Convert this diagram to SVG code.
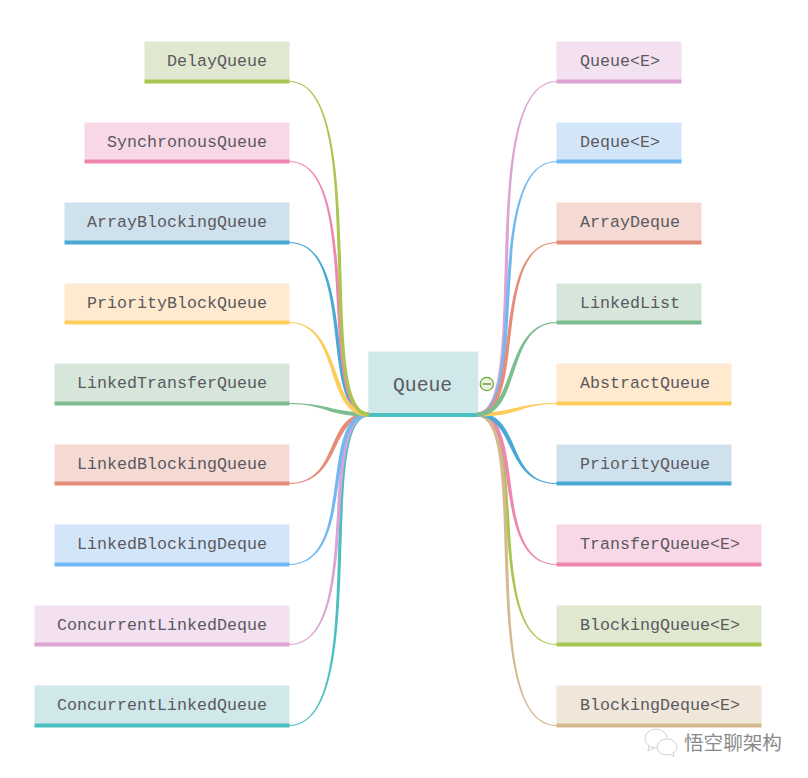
<svg xmlns="http://www.w3.org/2000/svg" width="808" height="778" viewBox="0 0 808 778">
<style>
text{font-family:"Liberation Mono","Noto Sans CJK SC",monospace;font-size:16.67px;fill:#5a5a60}
.c1{fill:#a8c650}.c2{fill:#ee86b0}.c3{fill:#48a9d4}.c4{fill:#fdcd5b}.c5{fill:#7dbd92}.c6{fill:#e58d7a}.c7{fill:#72b9f4}.c8{fill:#dda3d2}.c9{fill:#4bbfc4}.c10{fill:#d6b98f}
.f1{fill:#e0e8d0}.f2{fill:#f8d8e6}.f3{fill:#cfe1ec}.f4{fill:#ffead0}.f5{fill:#d6e6da}.f6{fill:#f5d9d3}.f7{fill:#d3e6f9}.f8{fill:#f3e0f0}.f9{fill:#d0e8ea}.f10{fill:#f0e6da}
</style>
<g id="root"><rect class="f9" x="368.3" y="351.5" width="110" height="63"/><rect class="c9" x="368.3" y="413" width="110" height="4"/><text x="393" y="391" style="font-size:19.7px">Queue</text></g>
<g id="l1"><rect class="f1" x="144.5" y="41.5" width="145" height="39"/><rect class="c1" x="144.5" y="79.5" width="145" height="4"/><text x="167" y="66">DelayQueue</text></g>
<g id="l2"><rect class="f2" x="84.5" y="122.5" width="205" height="38"/><rect class="c2" x="84.5" y="159.5" width="205" height="4"/><text x="107" y="147">SynchronousQueue</text></g>
<g id="l3"><rect class="f3" x="64.5" y="202.5" width="225" height="39"/><rect class="c3" x="64.5" y="240.5" width="225" height="4"/><text x="87" y="227">ArrayBlockingQueue</text></g>
<g id="l4"><rect class="f4" x="64.5" y="283.5" width="225" height="38"/><rect class="c4" x="64.5" y="320.5" width="225" height="4"/><text x="87" y="308">PriorityBlockQueue</text></g>
<g id="l5"><rect class="f5" x="54.5" y="363.5" width="235" height="39"/><rect class="c5" x="54.5" y="401.5" width="235" height="4"/><text x="77" y="388">LinkedTransferQueue</text></g>
<g id="l6"><rect class="f6" x="54.5" y="444.5" width="235" height="38"/><rect class="c6" x="54.5" y="481.5" width="235" height="4"/><text x="77" y="469">LinkedBlockingQueue</text></g>
<g id="l7"><rect class="f7" x="54.5" y="524.5" width="235" height="39"/><rect class="c7" x="54.5" y="562.5" width="235" height="4"/><text x="77" y="549">LinkedBlockingDeque</text></g>
<g id="l8"><rect class="f8" x="34.5" y="605.5" width="255" height="38"/><rect class="c8" x="34.5" y="642.5" width="255" height="4"/><text x="57" y="630">ConcurrentLinkedDeque</text></g>
<g id="l9"><rect class="f9" x="34.5" y="685.5" width="255" height="39"/><rect class="c9" x="34.5" y="723.5" width="255" height="4"/><text x="57" y="710">ConcurrentLinkedQueue</text></g>
<g id="r1"><rect class="f8" x="556.5" y="41.5" width="125" height="39"/><rect class="c8" x="556.5" y="79.5" width="125" height="4"/><text x="580" y="66">Queue&lt;E&gt;</text></g>
<g id="r2"><rect class="f7" x="556.5" y="122.5" width="125" height="38"/><rect class="c7" x="556.5" y="159.5" width="125" height="4"/><text x="580" y="147">Deque&lt;E&gt;</text></g>
<g id="r3"><rect class="f6" x="556.5" y="202.5" width="145" height="39"/><rect class="c6" x="556.5" y="240.5" width="145" height="4"/><text x="580" y="227">ArrayDeque</text></g>
<g id="r4"><rect class="f5" x="556.5" y="283.5" width="145" height="38"/><rect class="c5" x="556.5" y="320.5" width="145" height="4"/><text x="580" y="308">LinkedList</text></g>
<g id="r5"><rect class="f4" x="556.5" y="363.5" width="175" height="39"/><rect class="c4" x="556.5" y="401.5" width="175" height="4"/><text x="580" y="388">AbstractQueue</text></g>
<g id="r6"><rect class="f3" x="556.5" y="444.5" width="175" height="38"/><rect class="c3" x="556.5" y="481.5" width="175" height="4"/><text x="580" y="469">PriorityQueue</text></g>
<g id="r7"><rect class="f2" x="556.5" y="524.5" width="205" height="39"/><rect class="c2" x="556.5" y="562.5" width="205" height="4"/><text x="580" y="549">TransferQueue&lt;E&gt;</text></g>
<g id="r8"><rect class="f1" x="556.5" y="605.5" width="205" height="38"/><rect class="c1" x="556.5" y="642.5" width="205" height="4"/><text x="580" y="630">BlockingQueue&lt;E&gt;</text></g>
<g id="r9"><rect class="f10" x="556.5" y="685.5" width="205" height="39"/><rect class="c10" x="556.5" y="723.5" width="205" height="4"/><text x="580" y="710">BlockingDeque&lt;E&gt;</text></g>
<g id="connectors">
<defs>
<path id="u1" d="M289 81C373 81 316 412.5 369 412.5L369 416.5C310 416.5 371 82 289 82Z"/>
<path id="u2" d="M289 161C366 161 319 412.5 369 412.5L369 416.5C313 416.5 364 162 289 162Z"/>
<path id="u3" d="M289 242C358 242 323 412.5 369 412.5L369 416.5C317 416.5 356 243 289 243Z"/>
<path id="u4" d="M289 322C343 322 329 412.5 369 412.5L369 416.5C323 416.5 341 323 289 323Z"/>
<path id="u5" d="M289 403C329 403 331 412.5 369 412.5L369 416.5C325 416.5 327 404 289 404Z"/>
<path id="d6" d="M289 483C341 483 323 412.5 369 412.5L369 416.5C329 416.5 343 484 289 484Z"/>
<path id="d7" d="M289 564C356 564 317 412.5 369 412.5L369 416.5C323 416.5 358 565 289 565Z"/>
<path id="d8" d="M289 644C364 644 313 412.5 369 412.5L369 416.5C319 416.5 366 645 289 645Z"/>
<path id="d9" d="M289 725C371 725 310 412.5 369 412.5L369 416.5C316 416.5 373 726 289 726Z"/>
</defs>
<g id="left-links">
<use href="#d9" class="c9"/><use href="#d8" class="c8"/><use href="#d6" class="c6"/><use href="#d7" class="c7"/><use href="#u5" class="c5"/><use href="#u3" class="c3"/><use href="#u2" class="c2"/><use href="#u4" class="c4"/><use href="#u1" class="c1"/>
</g>
<g id="right-links" transform="matrix(-1 0 0 1 846 0)">
<use href="#d8" class="c1"/><use href="#d7" class="c2"/><use href="#d9" class="c10"/><use href="#d6" class="c3"/><use href="#u5" class="c4"/><use href="#u1" class="c8"/><use href="#u2" class="c7"/><use href="#u3" class="c6"/><use href="#u4" class="c5"/>
</g>
</g>
<g id="collapse"><circle cx="486.8" cy="384" r="6.6" fill="#eef5e2" stroke="#6aa82c" stroke-width="1.2"/><path d="M482.5 384H491" stroke="#4e7d22" stroke-width="1.2"/></g>
<g id="watermark" fill="none" stroke="#d2d2d2" stroke-width="1">
<ellipse cx="656" cy="738.5" rx="11" ry="9.5"/>
<path d="M649 746L648 751L654 748"/>
<ellipse cx="667" cy="747" rx="10" ry="8" fill="#fff"/>
<path d="M671 754L674 757L673 752" fill="#fff"/>
<text x="684" y="750" stroke="none" style="font-family:'Noto Sans CJK SC',sans-serif;font-size:19.6px;fill:#8a8a8a">悟空聊架构</text>
</g>
</svg>
